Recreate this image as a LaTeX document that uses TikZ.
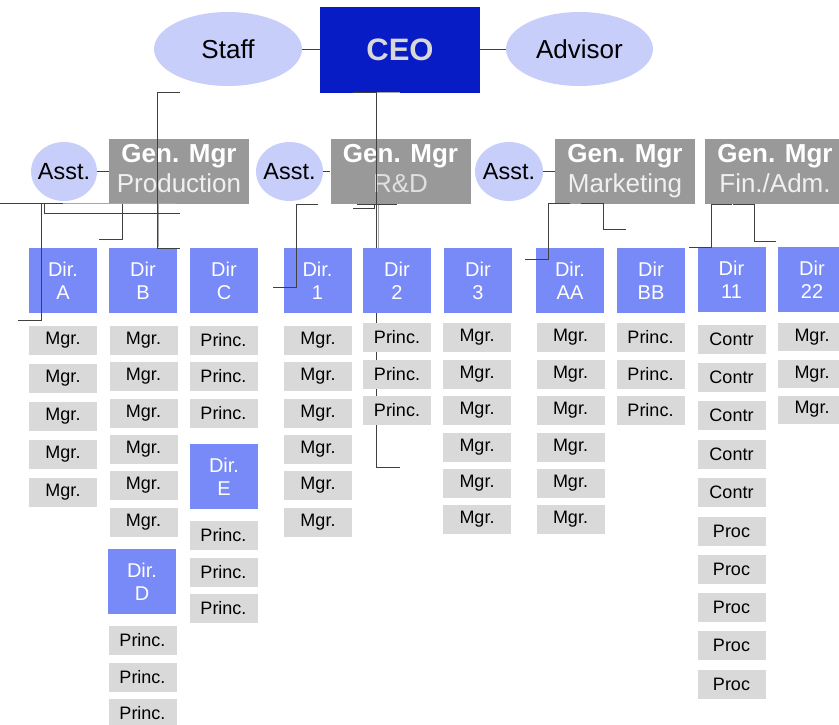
\documentclass[tikz,border=0pt]{standalone}
\usepackage{fontspec}
\setmainfont{Liberation Sans}
\usetikzlibrary{shapes.geometric}
\definecolor{ceoblue}{RGB}{8,28,198}
\definecolor{ceogray}{RGB}{216,216,216}
\definecolor{ovalblue}{RGB}{200,206,250}
\definecolor{dirblue}{RGB}{120,137,248}
\definecolor{gmgray}{RGB}{153,153,153}
\definecolor{subgray}{RGB}{217,217,217}
\newcommand{\midtext}[1]{\makebox[0pt]{#1}}
\tikzstyle{oval}=[ellipse,fill=ovalblue,inner sep=0pt,minimum height=74pt,font=\fontsize{26}{30}\selectfont]
\tikzstyle{asst}=[ellipse,fill=ovalblue,inner sep=0pt,minimum width=67pt,minimum height=59pt,font=\fontsize{23.4}{27}\selectfont]
\tikzstyle{chief}=[rectangle,fill=ceoblue,text=ceogray,inner sep=0pt,minimum width=160pt,minimum height=86pt,font=\bfseries\fontsize{31}{36}\selectfont]
\tikzstyle{gmbox}=[rectangle,fill=gmgray,text=white,align=center,inner sep=0pt,minimum width=140pt,minimum height=65pt,font=\fontsize{26}{30}\selectfont]
\tikzstyle{dirbox}=[rectangle,fill=dirblue,text=white,align=center,inner sep=0pt,minimum width=68pt,minimum height=65pt,font=\fontsize{20}{23}\selectfont]
\tikzstyle{subbox}=[rectangle,fill=subgray,inner sep=0pt,minimum width=68pt,minimum height=29pt,font=\fontsize{18}{21}\selectfont]
\tikzstyle{link}=[draw=black!75,line width=0.8pt]
\tikzstyle{faint}=[draw=black!35,line width=1pt]

\begin{document}
\begin{tikzpicture}[x=1pt,y=-1pt]
\useasboundingbox (0,0) rectangle (839,725);

% line behind the Dir 2 column
\coordinate (r1) at (376,313);
\coordinate (r2) at (400,467);
\draw[link] (r1) |- (r2);

\node (staff) at (228,49) [oval,minimum width=148pt]     {Staff};
\node (ceo) at (400,50) [chief]                          {CEO};
\node (advisor) at (579.5,49) [oval,minimum width=147pt] {Advisor};

\node (gmP) at (179,171.5) [gmbox] {\textbf{Gen. Mgr}\\\textcolor{black!6}{Production\vphantom{g}}};
\node (gmR) at (400.5,171.5) [gmbox] {\textbf{Gen. Mgr}\\\textcolor{black!12}{R\&D\vphantom{g}}};
\node (gmM) at (625,171.5) [gmbox] {\textbf{Gen. Mgr}\\\textcolor{black!6}{Marketing}};
\node (gmF) at (775,171.5) [gmbox] {\textbf{Gen. Mgr}\\\textcolor{black!6}{Fin./Adm.\vphantom{g}}};

\node (asP) at (64,171.5) [asst,minimum width=66pt] {\midtext{Asst.}};
\node (asR) at (289.5,171.5) [asst]                  {\midtext{Asst.}};
\node (asM) at (509,171.5) [asst,minimum width=68pt] {\midtext{Asst.}};

\node (dA) at (63,280.5) [dirbox]    {Dir.\\A};
\node (dB) at (143,280.5) [dirbox]   {Dir\\B};
\node (dC) at (224,280.5) [dirbox]   {Dir\\C};
\node (d1) at (317.5,280.5) [dirbox] {Dir.\\1};
\node (d2) at (397,280.5) [dirbox]   {Dir\\2};
\node (d3) at (478,280.5) [dirbox]   {Dir\\3};
\node (dAA) at (570,280.5) [dirbox]  {Dir.\\AA};
\node (dBB) at (651,280.5) [dirbox]  {Dir\\BB};
\node (d11) at (731.5,279.5) [dirbox] {Dir\\11};
\node (d22) at (812,279.5) [dirbox]  {Dir\\22};

% Dir. A
\node (a1) at (63,340.5) [subbox] {Mgr.};
\node (a2) at (63,378.5) [subbox] {Mgr.};
\node (a3) at (63,416.5) [subbox] {Mgr.};
\node (a4) at (63,454.5) [subbox] {Mgr.};
\node (a5) at (63,492.5) [subbox] {Mgr.};

% Dir B and Dir. D
\node (b1) at (143.5,340.5) [subbox] {Mgr.};
\node (b2) at (143.5,376.5) [subbox] {Mgr.};
\node (b3) at (143.5,413.5) [subbox] {Mgr.};
\node (b4) at (143.5,449.5) [subbox] {Mgr.};
\node (b5) at (143.5,485.5) [subbox] {Mgr.};
\node (b6) at (143.5,522.5) [subbox] {Mgr.};
\node (dD) at (142,581.5) [dirbox]   {Dir.\\D};
\node (p1) at (142.5,640.5) [subbox] {Princ.};
\node (p2) at (142.5,677.5) [subbox] {Princ.};
\node (p3) at (142.5,713.5) [subbox] {Princ.};

% Dir C and Dir. E
\node (c1) at (223.5,340.5) [subbox] {Princ.};
\node (c2) at (223.5,376.5) [subbox] {Princ.};
\node (c3) at (223.5,413.5) [subbox] {Princ.};
\node (dE) at (224,476.5) [dirbox]   {Dir.\\E};
\node (e1) at (223.5,535.5) [subbox] {Princ.};
\node (e2) at (223.5,572.5) [subbox] {Princ.};
\node (e3) at (223.5,608.5) [subbox] {Princ.};

% Dir. 1
\node (n1) at (318,340.5) [subbox] {Mgr.};
\node (n2) at (318,376.5) [subbox] {Mgr.};
\node (n3) at (318,413.5) [subbox] {Mgr.};
\node (n4) at (318,449.5) [subbox] {Mgr.};
\node (n5) at (318,485.5) [subbox] {Mgr.};
\node (n6) at (318,522.5) [subbox] {Mgr.};

% Dir 2
\node (m1) at (397,337.5) [subbox] {Princ.};
\node (m2) at (397,374.5) [subbox] {Princ.};
\node (m3) at (397,410.5) [subbox] {Princ.};

% Dir 3
\node (t1) at (477,337.5) [subbox] {Mgr.};
\node (t2) at (477,374.5) [subbox] {Mgr.};
\node (t3) at (477,410.5) [subbox] {Mgr.};
\node (t4) at (477,447.5) [subbox] {Mgr.};
\node (t5) at (477,483.5) [subbox] {Mgr.};
\node (t6) at (477,519.5) [subbox] {Mgr.};

% Dir. AA
\node (aa1) at (570.5,337.5) [subbox] {Mgr.};
\node (aa2) at (570.5,374.5) [subbox] {Mgr.};
\node (aa3) at (570.5,410.5) [subbox] {Mgr.};
\node (aa4) at (570.5,447.5) [subbox] {Mgr.};
\node (aa5) at (570.5,483.5) [subbox] {Mgr.};
\node (aa6) at (570.5,519.5) [subbox] {Mgr.};

% Dir BB
\node (bb1) at (650.5,337.5) [subbox] {Princ.};
\node (bb2) at (650.5,374.5) [subbox] {Princ.};
\node (bb3) at (650.5,410.5) [subbox] {Princ.};

% Dir 11
\node (k1) at (731.5,339.5) [subbox]  {Contr};
\node (k2) at (731.5,377.5) [subbox]  {Contr};
\node (k3) at (731.5,415.5) [subbox]  {Contr};
\node (k4) at (731.5,454.5) [subbox]  {Contr};
\node (k5) at (731.5,492.5) [subbox]  {Contr};
\node (k6) at (731.5,531.5) [subbox]  {Proc};
\node (k7) at (731.5,569.5) [subbox]  {Proc};
\node (k8) at (731.5,607.5) [subbox]  {Proc};
\node (k9) at (731.5,645.5) [subbox]  {Proc};
\node (k10) at (731.5,684.5) [subbox] {Proc};

% Dir 22
\node (z1) at (812,337) [subbox,minimum height=28pt]   {Mgr.};
\node (z2) at (812,374) [subbox,minimum height=28pt]   {Mgr.};
\node (z3) at (812,409.5) [subbox,minimum height=28pt] {Mgr.};

\draw[link] (staff.east) -- (staff.east -| ceo.west);
\draw[link] (advisor.west -| ceo.east) -- (advisor.west);
\draw[link] (asP) -- (gmP);
\draw[link] (asR) -- (gmR);
\draw[link] (asM) -- (gmM);

% loose elbows round the chart
\coordinate (s1) at (180,92);
\coordinate (s2) at (180,248);
\coordinate (s3) at (41,203.5);
\coordinate (s4) at (18,320);
\coordinate (s5) at (44,203.5);
\coordinate (s6) at (180,213);
\coordinate (s7) at (122,203.5);
\coordinate (s8) at (99,239);
\coordinate (s9) at (0,203.5);
\coordinate (s10) at (63,203.5);
\coordinate (s11) at (176,203.5);
\draw[faint] (s9) -- (s11);
\draw[link] (s9) -- (s10);
\draw[link] (s1) -- ++(-23,0) |- (s2);
\draw[faint] (158.5,204) -- (158.5,247);
\draw[link] (s3) |- (s4);
\draw[link] (s5) |- (s6);
\draw[link] (s7) |- (s8);

\coordinate (u1) at (353,92.5);
\coordinate (u2) at (376,248);
\coordinate (u3) at (400,92.5);
\coordinate (u4) at (357,204);
\coordinate (u5) at (397,204);
\coordinate (u6) at (353,208);
\coordinate (u7) at (318,204);
\coordinate (u8) at (273,287);
\draw[faint] (u1) -- (u3);
\draw[link] (u1) -| (u2);
\draw[faint] (378,204) -- (378,248);
\draw[link] (u4) -- (u5);
\draw[link] (u6) -| (374,204);
\draw[link] (u7) -- ++(-22,0) |- (u8);

\coordinate (w1) at (570,203.5);
\coordinate (w2) at (525,259);
\coordinate (w3) at (581,203.5);
\coordinate (w4) at (626,229);
\coordinate (w5) at (732,204);
\coordinate (w6) at (689,247);
\coordinate (w7) at (733,204);
\coordinate (w8) at (776,241);
\draw[link] (w1) -- ++(-22,0) |- (w2);
\draw[link] (w3) -- ++(22,0) |- (w4);
\draw[link] (w5) -- ++(-21,0) |- (w6);
\draw[link] (w7) -- ++(21,0) |- (w8);
\end{tikzpicture}
\end{document}
